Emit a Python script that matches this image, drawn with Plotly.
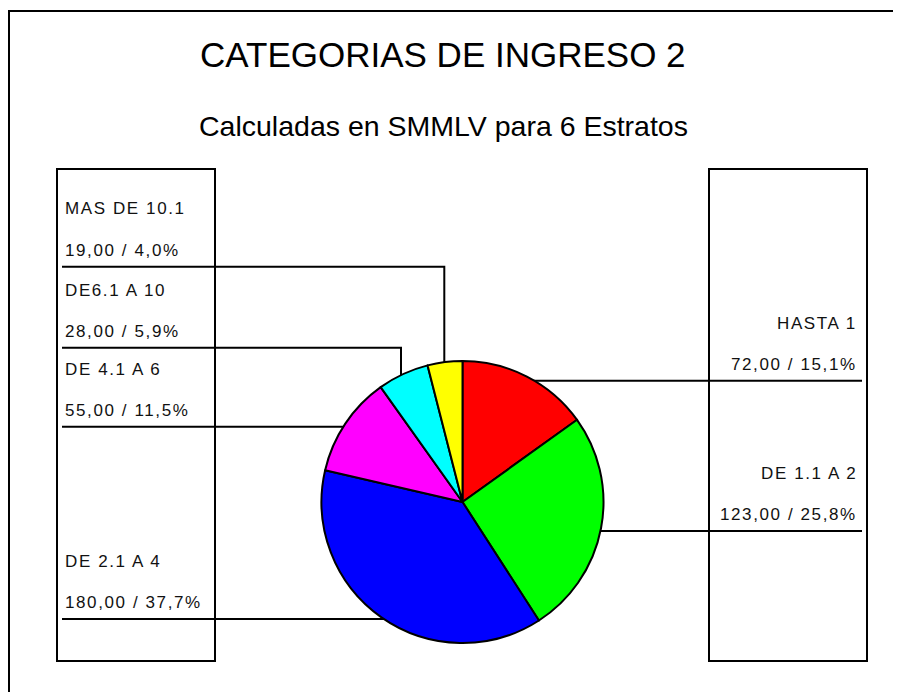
import plotly.graph_objects as go

# ---------------- data ----------------
title = "CATEGORIAS DE INGRESO 2"
subtitle = "Calculadas en SMMLV para 6 Estratos"
categories = ["HASTA 1", "DE 1.1 A 2", "DE 2.1 A 4", "DE 4.1 A 6", "DE6.1 A 10", "MAS DE 10.1"]
values = [72, 123, 180, 55, 28, 19]
colors = ["#FF0000", "#00FF00", "#0000FF", "#FF00FF", "#00FFFF", "#FFFF00"]

# ---------------- layout helpers ----------------
W, H = 901, 692
OFF = 8  # default page body margin


def px(x):
    return (x - OFF) / W


def py(y):
    return 1 - (y - OFF) / H


total = sum(values)


def fmt(v):
    pct = v / total * 100
    return f"{v:.2f}".replace(".", ",") + " / " + f"{pct:.1f}".replace(".", ",") + "%"


FONT = "Liberation Sans, Arial, sans-serif"
LS = "letter-spacing:1.6px"

cx, cy, r = 462.5, 502, 141

fig = go.Figure(
    go.Pie(
        labels=categories,
        values=values,
        sort=False,
        direction="clockwise",
        rotation=0,
        marker=dict(colors=colors, line=dict(color="black", width=2)),
        textinfo="none",
        hoverinfo="label+value+percent",
        showlegend=False,
        domain=dict(x=[px(cx - r), px(cx + r)], y=[py(cy + r), py(cy - r)]),
    )
)

# label placement (style/position only)
placement = {
    "HASTA 1": dict(side="right", ly=380.7, path=[(862, 380.7), (500, 380.7)]),
    "DE 1.1 A 2": dict(side="right", ly=531.0, path=[(862, 531.0), (560, 531.0)]),
    "DE 2.1 A 4": dict(side="left", ly=619.0, path=[(62, 619.0), (420, 619.0)]),
    "DE 4.1 A 6": dict(side="left", ly=426.7, path=[(62, 426.7), (400, 426.7)]),
    "DE6.1 A 10": dict(side="left", ly=347.7, path=[(62, 347.7), (401, 347.7), (401, 420)]),
    "MAS DE 10.1": dict(side="left", ly=266.7, path=[(62, 266.7), (444.3, 266.7), (444.3, 420)]),
}

shapes = []
# outer frame
shapes.append(dict(type="rect", xref="paper", yref="paper", x0=px(9), y0=py(11), x1=px(912), y1=py(710),
                   line=dict(color="black", width=2), fillcolor="rgba(0,0,0,0)", layer="below"))
# label boxes
for (x0, x1) in [(57, 215), (709, 867)]:
    shapes.append(dict(type="rect", xref="paper", yref="paper", x0=px(x0), y0=py(169), x1=px(x1), y1=py(661),
                       line=dict(color="black", width=2), fillcolor="rgba(0,0,0,0)", layer="below"))

annotations = [
    dict(text=title, x=px(442.5), y=py(54.5), xref="paper", yref="paper", xanchor="center", yanchor="middle",
         showarrow=False, font=dict(family=FONT, size=35, color="black")),
    dict(text=subtitle, x=px(443), y=py(126), xref="paper", yref="paper", xanchor="center", yanchor="middle",
         showarrow=False, font=dict(family=FONT, size=28.5, color="black")),
]

for cat, val in zip(categories, values):
    p = placement[cat]
    d = "M " + " L ".join(f"{px(x)},{py(y)}" for x, y in p["path"])
    shapes.append(dict(type="path", xref="paper", yref="paper", path=d,
                       line=dict(color="black", width=2), layer="below"))
    if p["side"] == "left":
        xa, xan = px(63), "left"
    else:
        xa, xan = px(858.5), "right"
    for txt, dy in [(cat, -57.7), (fmt(val), -16.5)]:
        annotations.append(dict(text=f'<span style="{LS}">{txt}</span>', x=xa, y=py(p["ly"] + dy),
                                xref="paper", yref="paper", xanchor=xan, yanchor="middle", showarrow=False,
                                font=dict(family=FONT, size=17, color="#111111")))

fig.update_layout(
    width=W, height=H,
    margin=dict(l=0, r=0, t=0, b=0),
    paper_bgcolor="white", plot_bgcolor="white",
    shapes=shapes, annotations=annotations,
    showlegend=False,
)

fig.write_html("out.html")
